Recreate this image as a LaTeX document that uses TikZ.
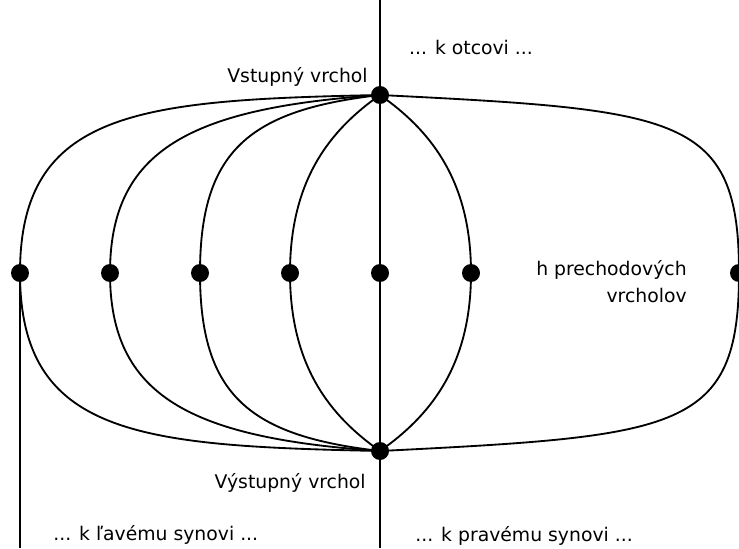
\documentclass[tikz,border=0pt]{standalone}
\usepackage{fontspec}
\setmainfont{DejaVu Sans}
\usepackage{tikz}
\usetikzlibrary{calc}

\begin{document}
\begin{tikzpicture}[x=0.02cm, y=0.02cm, font=\fontsize{10.7}{13}\selectfont,
    vertex/.style={circle,fill=black,inner sep=0pt,minimum size=0.36cm},
    edge/.style={line width=1.05pt},
    lbl/.style={inner sep=0pt}]
    \useasboundingbox (0,0) rectangle (739,548);

    % vertices
    \node[vertex] (top) at (380,453) {};
    \node[vertex] (bot) at (380,97)  {};
    \node[vertex] (m1)  at (20,275)  {};
    \node[vertex] (m2)  at (110,275) {};
    \node[vertex] (m3)  at (200,275) {};
    \node[vertex] (m4)  at (290,275) {};
    \node[vertex] (mc)  at (380,275) {};
    \node[vertex] (m5)  at (471,275) {};
    \node[vertex] (m6)  at (739,275) {};
    \coordinate (upend)   at (380,548);
    \coordinate (downend) at (380,0);
    \coordinate (leftend) at (20,0);

    % straight lines
    \draw[edge] (upend) -- (downend);
    \draw[edge] (m1.center) -- (leftend);

    % curves through the middle vertices
    \draw[edge] (top.center) .. controls ($(top)+(-240,-5)$) and ($(m1)+(0,163)$) .. (m1.center)
        .. controls ($(m1)+(0,-163)$) and ($(bot)+(-240,5)$) .. (bot.center);
    \draw[edge] (top.center) .. controls ($(top)+(-190,-13)$) and ($(m2)+(0,123)$) .. (m2.center)
        .. controls ($(m2)+(0,-123)$) and ($(bot)+(-190,13)$) .. (bot.center);
    \draw[edge] (top.center) .. controls ($(top)+(-130,-15)$) and ($(m3)+(0,123)$) .. (m3.center)
        .. controls ($(m3)+(0,-123)$) and ($(bot)+(-130,15)$) .. (bot.center);
    \draw[edge] (top.center) .. controls ($(top)+(-50,-35)$) and ($(m4)+(0,93)$) .. (m4.center)
        .. controls ($(m4)+(0,-93)$) and ($(bot)+(-50,35)$) .. (bot.center);
    \draw[edge] (top.center) .. controls ($(top)+(50,-35)$) and ($(m5)+(0,93)$) .. (m5.center)
        .. controls ($(m5)+(0,-93)$) and ($(bot)+(50,35)$) .. (bot.center);
    \draw[edge] (top.center) .. controls ($(top)+(300,-15)$) and ($(m6)+(0,158)$) .. (m6.center)
        .. controls ($(m6)+(0,-158)$) and ($(bot)+(300,15)$) .. (bot.center);

    % labels
    \node[lbl,anchor=base east] (inlbl)  at (368,465) {Vstupný vrchol};
    \node[lbl,anchor=base]      (uplbl)  at (471,493) {... k otcovi ...};
    \node[lbl,anchor=base east] (hlbl)   at (687,273) {h prechodových};
    \node[lbl,anchor=base east] (hlbl2)  at (687,246) {vrcholov};
    \node[lbl,anchor=base east] (outlbl) at (366,60)  {Výstupný vrchol};
    \node[lbl,anchor=base west] (leftlbl)  at (53,8)  {... k ľavému synovi ...};
    \node[lbl,anchor=base west] (rightlbl) at (415,7) {... k pravému synovi ...};
  \end{tikzpicture}
\end{document}
